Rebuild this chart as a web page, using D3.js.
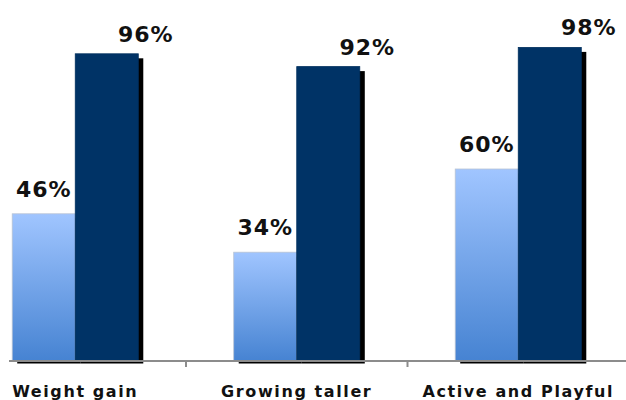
<!DOCTYPE html>
<html>
<head>
<meta charset="utf-8">
<script src="https://cdn.jsdelivr.net/npm/d3@7/dist/d3.min.js"></script>
<style>
  html, body { margin: 0; padding: 0; background: #fff; }
  svg { display: block; }
</style>
</head>
<body>
<svg id="chart" width="626" height="400"></svg>
<script>
// Chart data
const categories = ["Weight gain", "Growing taller", "Active and Playful"];
const seriesNames = ["before", "after"];
const beforeValues = [46, 34, 60];
const afterValues = [96, 92, 98];

const width = 626, height = 400;
const baseline = 361;

const svg = d3.select("#chart");

const defs = svg.append("defs");
const grad = defs.append("linearGradient")
  .attr("id", "lightGrad")
  .attr("x1", 0).attr("y1", 0).attr("x2", 0).attr("y2", 1);
grad.append("stop").attr("offset", "0%").attr("stop-color", "#a0c5ff");
grad.append("stop").attr("offset", "100%").attr("stop-color", "#4683d2");

// Scales
const x0 = d3.scaleBand().domain(categories).range([-35.5, 629]).padding(0);
const x1 = d3.scaleBand().domain(seriesNames).range([0, x0.bandwidth()]).paddingOuter(0.757).paddingInner(0);
const y = d3.scaleLinear().domain([0, 100]).range([baseline, 41]);

const rows = categories.map((c, i) => ({
  cat: c,
  bars: [
    { key: "before", value: beforeValues[i] },
    { key: "after", value: afterValues[i] }
  ]
}));

const groups = svg.append("g").selectAll("g")
  .data(rows)
  .join("g")
  .attr("transform", d => `translate(${x0(d.cat)},0)`);

const fills = { before: "url(#lightGrad)", after: "#003366" };

groups.each(function(d) {
  const g = d3.select(this);
  d.bars.forEach(b => {
    const bx = x1(b.key), bw = x1.bandwidth();
    const top = y(b.value);
    // drop shadow
    g.append("rect")
      .attr("x", bx + 5).attr("y", top + 4.5)
      .attr("width", bw).attr("height", baseline - top - 2)
      .attr("fill", "#000");
    // bar
    g.append("rect")
      .attr("x", bx).attr("y", top)
      .attr("width", bw).attr("height", baseline - top)
      .attr("fill", fills[b.key])
      .attr("stroke", b.key === "before" ? "#b8c4d4" : "#00305e")
      .attr("stroke-width", 0.8);
  });
});

// Value labels
const labelFont = "DejaVu Sans, Verdana, sans-serif";
groups.each(function(d) {
  const g = d3.select(this);
  d.bars.forEach(b => {
    const bx = x1(b.key), bw = x1.bandwidth();
    const isAfter = b.key === "after";
    g.append("text")
      .attr("x", bx + bw / 2 + (isAfter ? 39 : 0))
      .attr("y", y(b.value) - (isAfter ? 12 : 17))
      .attr("text-anchor", "middle")
      .attr("font-family", labelFont)
      .attr("font-weight", "bold")
      .attr("font-size", 22)
      .attr("letter-spacing", 1)
      .attr("fill", "#111")
      .text(b.value + "%");
  });
});

// Category axis
const axis = svg.append("g");
axis.append("line")
  .attr("x1", 9).attr("x2", width)
  .attr("y1", baseline).attr("y2", baseline)
  .attr("stroke", "#8c8c8c").attr("stroke-width", 2);
axis.selectAll("line.tick")
  .data(categories.slice(0, -1))
  .join("line")
  .attr("class", "tick")
  .attr("x1", d => x0(d) + x0.step()).attr("x2", d => x0(d) + x0.step())
  .attr("y1", baseline).attr("y2", baseline + 6)
  .attr("stroke", "#8c8c8c").attr("stroke-width", 2);
axis.selectAll("text")
  .data(categories)
  .join("text")
  .attr("x", d => x0(d) + x0.bandwidth() / 2)
  .attr("y", 397)
  .attr("text-anchor", "middle")
  .attr("font-family", labelFont)
  .attr("font-weight", "bold")
  .attr("font-size", 16)
  .attr("letter-spacing", 1.6)
  .attr("fill", "#111")
  .text(d => d);
</script>
</body>
</html>
